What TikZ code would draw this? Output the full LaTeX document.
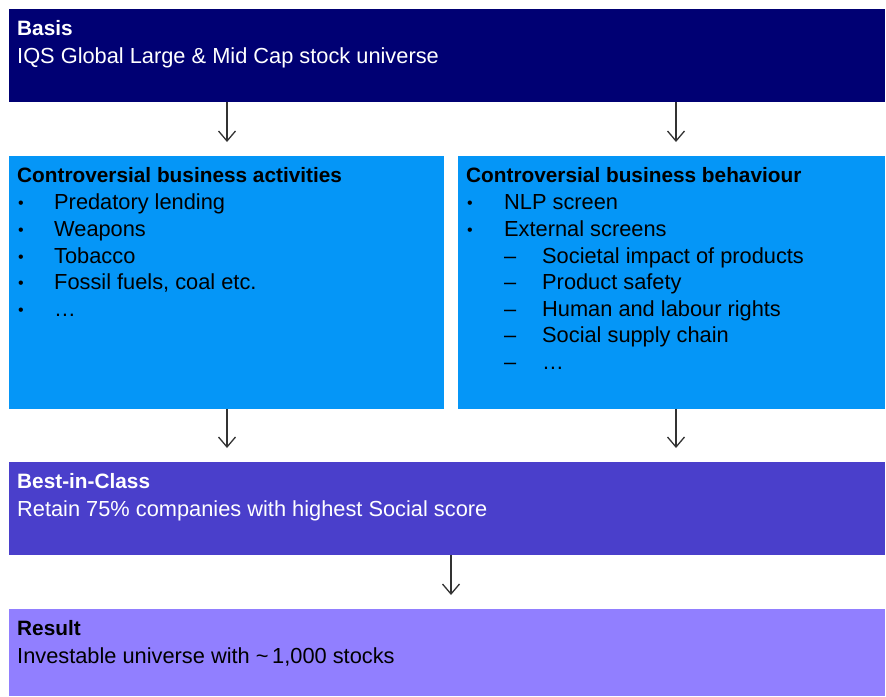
\documentclass[tikz,border=0pt]{standalone}
\usepackage{fontspec}
\setmainfont{Liberation Sans}
\usetikzlibrary{arrows.meta}
\definecolor{navy}{HTML}{000073}
\definecolor{sky}{HTML}{0596F7}
\definecolor{indigo}{HTML}{4A3FCB}
\definecolor{lav}{HTML}{917FFF}
\definecolor{arrowgray}{HTML}{333333}
\begin{document}
\begin{tikzpicture}[x=1pt,y=-1pt,
 box/.style={draw=none, inner sep=0pt, outer sep=0pt, anchor=north west},
 ttl/.style={anchor=base west, inner sep=0pt, font=\fontsize{20.8}{24}\selectfont\bfseries},
 txt/.style={anchor=base west, inner sep=0pt, font=\fontsize{21.8}{26}\selectfont},
 bul/.style={anchor=base west, inner sep=0pt, font=\fontsize{16}{18}\selectfont},
 arr/.style={draw=arrowgray, line width=1.3pt, -{Straight Barb[length=10pt,width=17pt]}, shorten >=14pt}]
\useasboundingbox (0,0) rectangle (886,696);
\node[box, fill=navy, minimum width=876pt, minimum height=93pt] (basis) at (9,9) {};
\node[box, fill=sky, minimum width=435pt, minimum height=253pt] (left) at (9,156) {};
\node[box, fill=sky, minimum width=427pt, minimum height=253pt] (right) at (458,156) {};
\node[box, fill=indigo, minimum width=876pt, minimum height=93pt] (best) at (9,462) {};
\node[box, fill=lav, minimum width=876pt, minimum height=87pt] (result) at (9,609) {};

\node[ttl, text=white] (t1) at (17,35) {Basis};
\node[txt, text=white] (b1) at (17,63) {IQS Global Large \& Mid Cap stock universe};

\node[ttl] (t2) at (17,182) {Controversial business activities};
\foreach \y/\s [count=\i] in {209/Predatory lending, 236/Weapons, 263/Tobacco, 289/{Fossil fuels, coal etc.}, 316/…}{
  \node[bul] (lb\i) at (18,\y-1) {•};
  \node[txt] (l\i) at (54,\y) {\s};
}

\node[ttl] (t3) at (466,182) {Controversial business behaviour};
\node[bul] (rb1) at (467,208) {•};
\node[txt] (r1) at (504,209) {NLP screen};
\node[bul] (rb2) at (467,235) {•};
\node[txt] (r2) at (504,236) {External screens};
\foreach \y/\s [count=\i] in {263/Societal impact of products, 289/Product safety, 316/Human and labour rights, 342/Social supply chain, 369/…}{
  \node[txt] (rd\i) at (504,\y) {–};
  \node[txt] (rs\i) at (542,\y) {\s};
}

\node[ttl, text=white] (t4) at (17,488) {Best-in-Class};
\node[txt, text=white] (b4) at (17,516) {Retain 75\% companies with highest Social score};

\node[ttl] (t5) at (17,635) {Result};
\node[txt] (b5) at (17,663) {Investable universe with \textasciitilde\,1,000 stocks};

\draw[arr] ([xshift=0.5pt]left.north |- basis.south) -- ([xshift=0.5pt]left.north);
\draw[arr] ([xshift=4.5pt]right.north |- basis.south) -- ([xshift=4.5pt]right.north);
\draw[arr] ([xshift=0.5pt]left.south) -- ([xshift=0.5pt]left.south |- best.north);
\draw[arr] ([xshift=4.5pt]right.south) -- ([xshift=4.5pt]right.south |- best.north);
\draw[arr] ([xshift=4pt]best.south) -- ([xshift=4pt]result.north);
\end{tikzpicture}
\end{document}
